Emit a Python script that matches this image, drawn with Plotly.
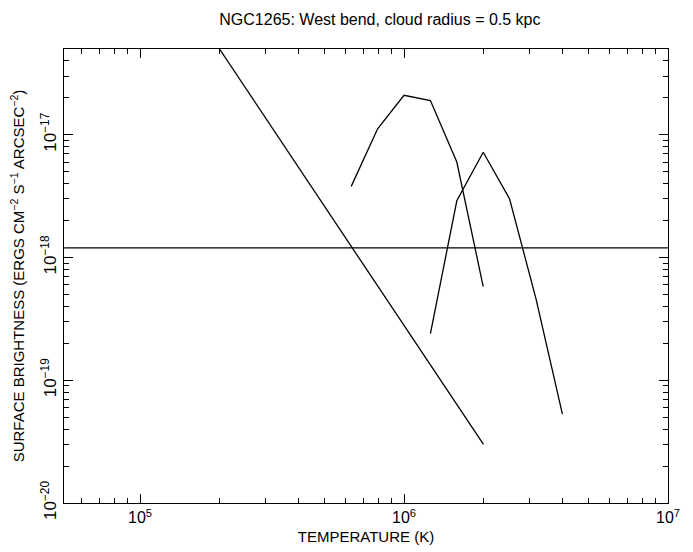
import plotly.graph_objects as go
import numpy as np

# Data
line_T = [2.0e5, 2.0e6]
line_S = [5.0e-17, 3.0e-20]

flat_T = [5.16e4, 1.0e7]
flat_S = [1.2e-18, 1.2e-18]

c1_logT = [5.8, 5.9, 6.0, 6.1, 6.2, 6.3]
c1_S = [3.8e-18, 1.12e-17, 2.1e-17, 1.9e-17, 6.0e-18, 5.8e-19]

c2_logT = [6.1, 6.2, 6.3, 6.4, 6.5, 6.6]
c2_S = [2.4e-19, 2.9e-18, 7.2e-18, 3.0e-18, 4.6e-19, 5.3e-20]

x_ticks = [1e5, 1e6, 1e7]
x_ticktext = ["10<sup>5</sup>", "10<sup>6</sup>", "10<sup>7</sup>"]
y_ticks = [1e-20, 1e-19, 1e-18, 1e-17]
y_ticktext = ["10<sup>−20</sup>", "10<sup>−19</sup>", "10<sup>−18</sup>", "10<sup>−17</sup>"]

title_text = "NGC1265: West bend, cloud radius = 0.5 kpc"
x_title = "TEMPERATURE (K)"
y_title = "SURFACE BRIGHTNESS (ERGS CM<sup>−2</sup> S<sup>−1</sup> ARCSEC<sup>−2</sup>)"

FONT = "Liberation Sans, Arial, sans-serif"
lw = 1.3
col = "black"

fig = go.Figure()
for xs, ys in [(line_T, line_S), (flat_T, flat_S),
               ([10 ** v for v in c1_logT], c1_S),
               ([10 ** v for v in c2_logT], c2_S)]:
    fig.add_trace(go.Scatter(x=xs, y=ys, mode="lines",
                             line=dict(color=col, width=lw),
                             showlegend=False, hoverinfo="skip"))

x_minor = [m * 10 ** e for e in range(4, 7) for m in range(2, 10)]
y_minor = [m * 10.0 ** e for e in range(-20, -16) for m in range(2, 10)]

# page body has an 8px margin; compensate so the plot lands where the reference has it
fig.update_layout(
    width=685, height=544,
    margin=dict(l=56, r=25, t=41, b=49),
    paper_bgcolor="white", plot_bgcolor="white",
    font=dict(family=FONT, color="black", size=15),
    title=dict(text=title_text, x=0.523, xref="paper", xanchor="center",
               y=1 - 11 / 544, yref="container", yanchor="middle",
               font=dict(size=16, family=FONT)),
    xaxis=dict(type="log", range=[4.712, 7.0], automargin=False,
               tickmode="array", tickvals=x_ticks, ticktext=x_ticktext,
               ticks="inside", ticklen=9, tickwidth=1.2, tickcolor="black",
               showline=True, linecolor="black", linewidth=1.3, mirror="allticks",
               showgrid=False, zeroline=False, layer="above traces",
               minor=dict(tickmode="array", tickvals=x_minor, ticks="inside",
                          ticklen=5, tickwidth=1, tickcolor="black", showgrid=False),
               tickfont=dict(size=16),
               title=dict(text=x_title, font=dict(size=15), standoff=6)),
    yaxis=dict(type="log", range=[-20, np.log10(5e-17)], automargin=False,
               tickmode="array", tickvals=y_ticks, ticktext=y_ticktext,
               tickangle=-90,
               ticks="inside", ticklen=9, tickwidth=1.2, tickcolor="black",
               showline=True, linecolor="black", linewidth=1.3, mirror="allticks",
               showgrid=False, zeroline=False, layer="above traces",
               minor=dict(tickmode="array", tickvals=y_minor, ticks="inside",
                          ticklen=5, tickwidth=1, tickcolor="black", showgrid=False),
               tickfont=dict(size=17),
               title=dict(text=y_title, font=dict(size=15), standoff=10)),
)

fig.write_html("out.html")
